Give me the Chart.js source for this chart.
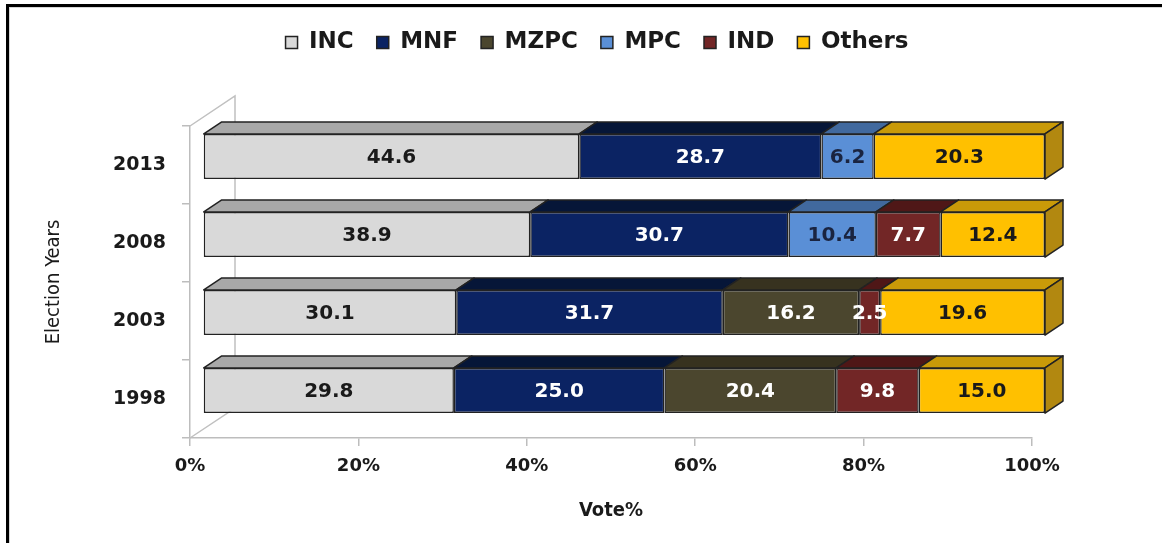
<!DOCTYPE html>
<html>
<head>
<meta charset="utf-8">
<script src="https://cdn.jsdelivr.net/npm/chart.js"></script>
<style>
  html, body { margin: 0; padding: 0; background: #fff; }
  #wrap { position: relative; width: 1162px; height: 543px; overflow: hidden; }
  #wrap canvas { position: absolute; left: 0; top: 0; }
  .edge { position: absolute; background: #000; }
  .soft { position: absolute; background: #d6d6d6; }
</style>
</head>
<body>
<div id="wrap">
  <canvas id="myChart" width="1162" height="543"></canvas>
  <div class="edge" style="left:6px;top:4px;width:1156px;height:3px"></div>
  <div class="edge" style="left:6px;top:4px;width:3px;height:539px"></div>
  <div class="soft" style="left:9px;top:7px;width:1153px;height:1px"></div>
  <div class="soft" style="left:9px;top:7px;width:1px;height:536px"></div>
</div>
<script>
const years = ['2013', '2008', '2003', '1998'];
const parties = ['INC', 'MNF', 'MZPC', 'MPC', 'IND', 'Others'];
const inc = [44.6, 38.9, 30.1, 29.8];
const mnf = [28.7, 30.7, 31.7, 25.0];
const mzpc = [null, null, 16.2, 20.4];
const mpc = [6.2, 10.4, null, null];
const ind = [null, 7.7, 2.5, 9.8];
const others = [20.3, 12.4, 19.6, 15.0];
const tickStep = 20;

const series = [inc, mnf, mzpc, mpc, ind, others];
const frontColors = ['#d9d9d9', '#0b2363', '#4b462e', '#5a8fd6', '#722626', '#ffc000'];
const topColors = ['#a8a8a8', '#061638', '#37321f', '#41699e', '#4f1717', '#c99a08'];
const textColors = ['#1a1a1a', '#ffffff', '#ffffff', '#1a2440', '#ffffff', '#1a1a1a'];
const sideColor = '#b28810';

// excel style 100% stacking: each year scaled to its own total
const totals = years.map((y, j) => series.reduce((s, arr) => s + (arr[j] || 0), 0));

const DX = 18, DY = -12;       // bar depth
const SX = 13, SY = -8.5;      // bar shift into the depth
const WX = 45, WY = -30;       // wall depth

const bars3d = {
    id: 'bars3d',
    beforeDatasetsDraw: (chart) => {
        const {ctx, chartArea} = chart;
        ctx.save();
        ctx.strokeStyle = '#c0c0c0';
        ctx.lineWidth = 1.5;
        ctx.beginPath();
        ctx.moveTo(chartArea.left, chartArea.top);
        ctx.lineTo(chartArea.left + WX, chartArea.top + WY);
        ctx.lineTo(chartArea.left + WX, chartArea.bottom + WY);
        ctx.lineTo(chartArea.left, chartArea.bottom);
        ctx.stroke();
        ctx.restore();

        ctx.save();
        ctx.translate(SX, SY);
        ctx.strokeStyle = '#222222';
        ctx.lineWidth = 1.5;
        ctx.lineJoin = 'round';
        chart.data.datasets.forEach((ds, i) => {
            const meta = chart.getDatasetMeta(i);
            meta.data.forEach((bar, j) => {
                if (ds.raw[j] == null) return;
                const p = bar.getProps(['x', 'y', 'base', 'height'], true);
                const l = Math.min(p.x, p.base), r = Math.max(p.x, p.base);
                const t = p.y - p.height / 2, b = p.y + p.height / 2;
                ctx.fillStyle = topColors[i];
                ctx.beginPath();
                ctx.moveTo(l, t);
                ctx.lineTo(l + DX, t + DY);
                ctx.lineTo(r + DX, t + DY);
                ctx.lineTo(r, t);
                ctx.closePath();
                ctx.fill();
                ctx.stroke();
                const last = series.slice(i + 1).every(arr => arr[j] == null);
                if (last) {
                    ctx.fillStyle = sideColor;
                    ctx.beginPath();
                    ctx.moveTo(r, t);
                    ctx.lineTo(r + DX, t + DY);
                    ctx.lineTo(r + DX, b + DY);
                    ctx.lineTo(r, b);
                    ctx.closePath();
                    ctx.fill();
                    ctx.stroke();
                }
            });
        });
    },
    afterDatasetsDraw: (chart) => {
        const {ctx} = chart;
        ctx.font = 'bold 20px "DejaVu Sans"';
        ctx.textAlign = 'center';
        ctx.textBaseline = 'middle';
        chart.data.datasets.forEach((ds, i) => {
            const meta = chart.getDatasetMeta(i);
            meta.data.forEach((bar, j) => {
                if (ds.raw[j] == null) return;
                const p = bar.getProps(['x', 'y', 'base'], true);
                ctx.fillStyle = textColors[i];
                ctx.fillText(ds.raw[j].toFixed(1), (p.x + p.base) / 2, p.y + 1);
            });
        });
        ctx.restore();
    }
};

// leave room between the legend and the plot, and nudge it right like the original
const legendGap = {
    id: 'legendGap',
    beforeLayout: (chart) => {
        const lg = chart.legend;
        if (!lg || lg._gapPatched) return;
        const fit = lg.fit;
        lg.fit = function () { fit.call(this); this.height += 62; };
        const draw = lg.draw;
        lg.draw = function () {
            this.ctx.save();
            this.ctx.translate(62, 0);
            draw.call(this);
            this.ctx.restore();
        };
        lg._gapPatched = true;
    }
};

new Chart(document.getElementById('myChart'), {
    type: 'bar',
    data: {
        labels: years,
        datasets: series.map((arr, i) => ({
            label: parties[i],
            data: arr.map((v, j) => v == null ? null : v / totals[j] * 100),
            raw: arr,
            backgroundColor: frontColors[i],
            borderColor: '#222222',
            borderWidth: 1.5,
            borderSkipped: false,
            barPercentage: 0.58,
            categoryPercentage: 1
        }))
    },
    options: {
        indexAxis: 'y',
        responsive: false,
        animation: false,
        layout: { padding: { top: 8, left: 38, right: 130, bottom: 16 } },
        plugins: {
            legend: {
                display: true,
                labels: {
                    color: '#1a1a1a',
                    boxWidth: 12,
                    boxHeight: 12,
                    padding: 23,
                    font: { family: 'DejaVu Sans', weight: 'bold', size: 23 }
                }
            },
            tooltip: { enabled: false }
        },
        scales: {
            x: {
                stacked: true,
                min: 0,
                max: 100,
                ticks: {
                    stepSize: tickStep,
                    color: '#1a1a1a',
                    padding: 10,
                    font: { family: 'DejaVu Sans', weight: 'bold', size: 18 },
                    callback: (v) => v + '%'
                },
                grid: { drawOnChartArea: false, color: '#bdbdbd', tickLength: 8, lineWidth: 1.5 },
                border: { color: '#bdbdbd', width: 1.5 },
                title: {
                    display: true,
                    text: 'Vote%',
                    color: '#1a1a1a',
                    font: { family: '"Liberation Sans Narrow", "DejaVu Sans Condensed", "Noto Sans"', weight: 'bold', size: 20 }
                },
                afterFit: (scale) => { scale.height = 89; }
            },
            y: {
                stacked: true,
                ticks: {
                    color: '#1a1a1a',
                    padding: 16,
                    font: { family: 'DejaVu Sans', weight: 'bold', size: 19 }
                },
                grid: { drawOnChartArea: false, color: '#bdbdbd', tickLength: 8, lineWidth: 1.5 },
                border: { color: '#bdbdbd', width: 1.5 },
                title: {
                    display: true,
                    text: 'Election Years',
                    color: '#1a1a1a',
                    font: { family: '"Liberation Sans Narrow", "DejaVu Sans Condensed", "Noto Sans"', size: 20 }
                },
                afterFit: (scale) => { scale.width = 152; }
            }
        }
    },
    plugins: [legendGap, bars3d]
});
</script>
</body>
</html>
